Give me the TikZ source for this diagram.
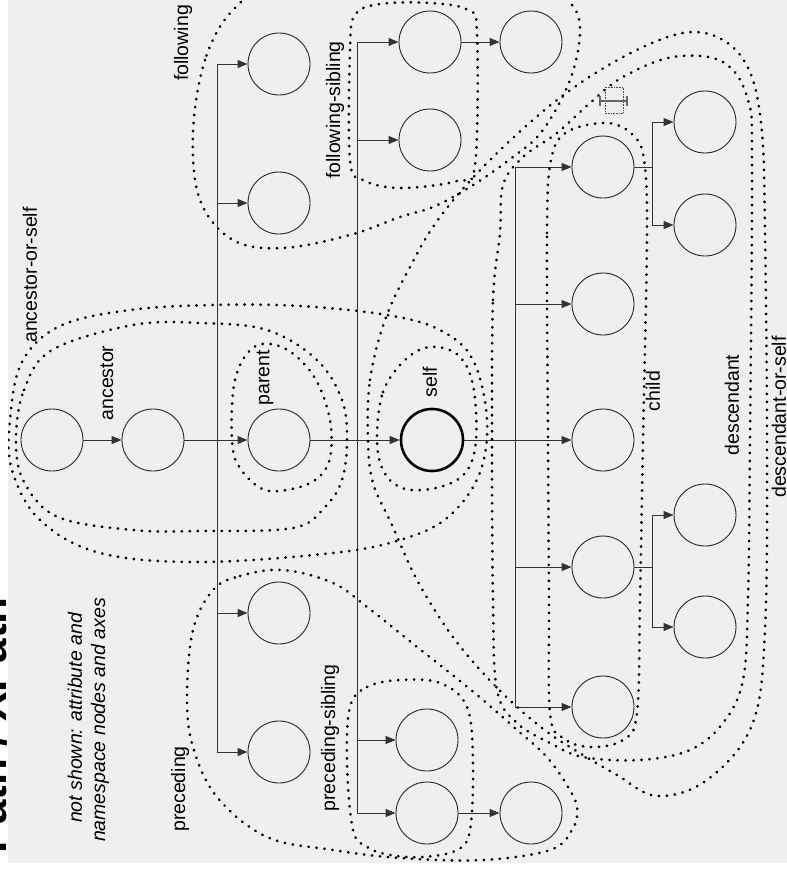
\documentclass[tikz,border=0pt]{standalone}
\usepackage{fontspec}
\setmainfont{Liberation Sans}
\usetikzlibrary{arrows.meta}
\definecolor{panel}{HTML}{EFEFEF}
\definecolor{lnc}{HTML}{333333}
\begin{document}
\begin{tikzpicture}[x=1pt,y=-1pt,
  circ/.style={circle,draw=black!85,line width=0.9pt,minimum size=62pt,inner sep=0pt},
  selfc/.style={circ,line width=2.6pt,draw=black},
  conn/.style={draw=lnc,line width=1pt},
  arr/.style={conn,-{Triangle[length=10pt,width=8pt]}},
  dots/.style={draw=black,line width=2.8pt,line cap=round,dash pattern=on 0.3pt off 7.7pt},
  lab/.style={font=\fontsize{19.5}{22}\selectfont,rotate=90,inner sep=0pt},
  note/.style={lab,font=\itshape\fontsize{19.5}{22}\selectfont},
]
\useasboundingbox (0,0) rectangle (787,870);
\fill[white] (0,0) rectangle (787,870);
\node[font=\bfseries\fontsize{44}{44}\selectfont,rotate=90,anchor=base east,inner sep=0pt] (title) at (6,597) {Path / XPath};
\fill[panel] (8,0) rectangle (787,863);

% nodes
\node[circ] (root) at (52,440) {};
\node[circ] (anc) at (153,440) {};
\node[circ] (par) at (279,440) {};
\node[selfc] (self) at (432,440) {};
\node[circ] (f1) at (279,64) {};
\node[circ] (f2) at (279,203) {};
\node[circ] (p1) at (279,613) {};
\node[circ] (p2) at (279,752) {};
\node[circ] (fs1) at (430,42) {};
\node[circ] (fs2) at (430,140) {};
\node[circ] (fs1b) at (531,42) {};
\node[circ] (ps1) at (427,740) {};
\node[circ] (ps2) at (427,813) {};
\node[circ] (ps2b) at (531,813) {};
\node[circ] (c1) at (603,167) {};
\node[circ] (c2) at (603,304) {};
\node[circ] (c3) at (603,440) {};
\node[circ] (c4) at (603,567) {};
\node[circ] (c5) at (603,707) {};
\node[circ] (g1) at (705,122) {};
\node[circ] (g2) at (705,225) {};
\node[circ] (g3) at (705,515) {};
\node[circ] (g4) at (705,627) {};

\coordinate (va) at (217,440);
\coordinate (vb) at (357,440);
\coordinate (vc) at (515,440);
\coordinate (vd) at (652,167);
\coordinate (ve) at (652,567);

% connectors
\draw[arr] (root) -- (anc);
\draw[arr] (anc) -- (par);
\draw[arr] (par) -- (self);
\draw[conn] (va |- f1) -- (va |- p2);
\foreach \n in {f1,f2,p1,p2} \draw[arr] (va |- \n) -- (\n);
\draw[conn] (vb |- fs1) -- (vb |- ps2);
\foreach \n in {fs1,fs2,ps1,ps2} \draw[arr] (vb |- \n) -- (\n);
\draw[arr] (fs1) -- (fs1b);
\draw[arr] (ps2) -- (ps2b);
\draw[conn] (self) -- (vc);
\draw[conn] (vc |- c1) -- (vc |- c5);
\foreach \n in {c1,c2,c3,c4,c5} \draw[arr] (vc |- \n) -- (\n);
\draw[conn] (c1) -- (vd);
\draw[conn] (vd |- g1) -- (vd |- g2);
\foreach \n in {g1,g2} \draw[arr] (vd |- \n) -- (\n);
\draw[conn] (c4) -- (ve);
\draw[conn] (ve |- g3) -- (ve |- g4);
\foreach \n in {g3,g4} \draw[arr] (ve |- \n) -- (\n);

% dotted regions
\begin{scope}
\clip (8,0) rectangle (787,863);
% ancestor-or-self
\draw[dots] plot[smooth cycle,tension=0.6] coordinates {(10,420) (22,362) (60,326) (130,310) (213,305) (300,306) (387,315) (440,330) (473,360) (487,420) (479,475) (447,518) (400,540) (333,553) (200,562) (100,553) (40,520) (12,470)};
% ancestor
\draw[dots] plot[smooth cycle,tension=0.6] coordinates {(16,440) (24,390) (52,350) (133,325) (200,323) (267,330) (317,360) (342,400) (347,440) (342,480) (325,507) (293,528) (200,531) (133,530) (58,517) (24,482)};
% parent
\draw[dots] plot[smooth cycle,tension=0.6] coordinates {(232,440) (235,380) (254,347) (284,348) (313,375) (329,415) (331,452) (322,474) (300,487) (265,490) (240,468)};
% self
\draw[dots] plot[smooth cycle,tension=0.6] coordinates {(377,440) (383,392) (405,360) (430,347) (458,355) (473,385) (476,440) (466,472) (440,487) (405,489) (384,472)};
% following
\draw[dots] plot[smooth cycle,tension=0.6] coordinates {(233,10) (205,60) (193,133) (200,200) (233,240) (283,248) (350,235) (400,217) (433,207) (470,187) (513,157) (543,130) (570,80) (580,33) (572,5) (540,-14) (400,-22) (280,-16)};
% following-sibling
\draw[dots] plot[smooth cycle,tension=0.6] coordinates {(355,15) (350,50) (350,160) (363,180) (400,188) (457,181) (475,165) (477,33) (468,10) (430,3) (380,4)};
% preceding
\draw[dots] plot[smooth cycle,tension=0.6] coordinates {(213,590) (240,576) (283,570) (333,583) (367,607) (417,647) (450,673) (483,700) (517,730) (545,755) (565,782) (577,807) (572,830) (550,850) (483,860) (400,858) (333,850) (267,837) (217,797) (193,747) (187,697) (193,630)};
% preceding-sibling
\draw[dots] plot[smooth cycle,tension=0.6] coordinates {(350,707) (367,687) (400,680) (440,683) (467,707) (473,763) (470,830) (457,850) (423,857) (390,855) (367,847) (353,830) (347,763)};
% descendant-or-self
\draw[dots] plot[smooth cycle,tension=0.6] coordinates {(368,440) (370,380) (385,320) (410,267) (440,217) (490,160) (557,100) (623,57) (683,33) (723,40) (750,72) (762,133) (765,233) (767,440) (765,630) (752,725) (707,780) (657,796) (617,775) (583,755) (550,734) (517,707) (483,673) (450,633) (417,580) (392,525) (373,483)};
% descendant
\draw[dots] plot[smooth cycle,tension=0.6] coordinates {(492,440) (493,300) (500,233) (503,185) (523,157) (557,133) (590,103) (623,77) (673,57) (723,62) (748,100) (752,167) (750,440) (748,597) (743,680) (723,723) (690,750) (640,760) (583,757) (550,743) (517,723) (497,690) (493,600)};
% child
\draw[dots] plot[smooth cycle,tension=0.6] coordinates {(548,440) (547,233) (551,160) (567,132) (607,123) (633,135) (644,160) (647,233) (643,440) (640,600) (637,713) (623,740) (590,747) (563,738) (550,713) (549,600)};
\end{scope}

% cursor artefact
\draw[black!70,line width=0.6pt,densely dotted] (605,87) rectangle (623,113);
\draw[black!60,line width=1.2pt] (600,101) -- (627,101) (600,96) -- (600,106) (627,96) -- (627,106);

% labels
\node[lab] (l-aos) at (30,275) {ancestor-or-self};
\node[lab] (l-anc) at (107,383) {ancestor};
\node[lab] (l-par) at (265,378) {parent};
\node[lab] (l-fol) at (183,43) {following};
\node[lab] (l-fs) at (335,110) {following-sibling};
\node[lab] (l-self) at (430,382) {self};
\node[lab] (l-child) at (653,391) {child};
\node[lab] (l-desc) at (732,405) {descendant};
\node[lab] (l-dos) at (779,417) {descendant-or-self};
\node[lab] (l-pre) at (180,789) {preceding};
\node[lab] (l-ps) at (330,738) {preceding-sibling};
\node[note] (n1) at (75,718) {not shown: attribute and};
\node[note] (n2) at (100,720) {namespace nodes and axes};
\end{tikzpicture}
\end{document}
